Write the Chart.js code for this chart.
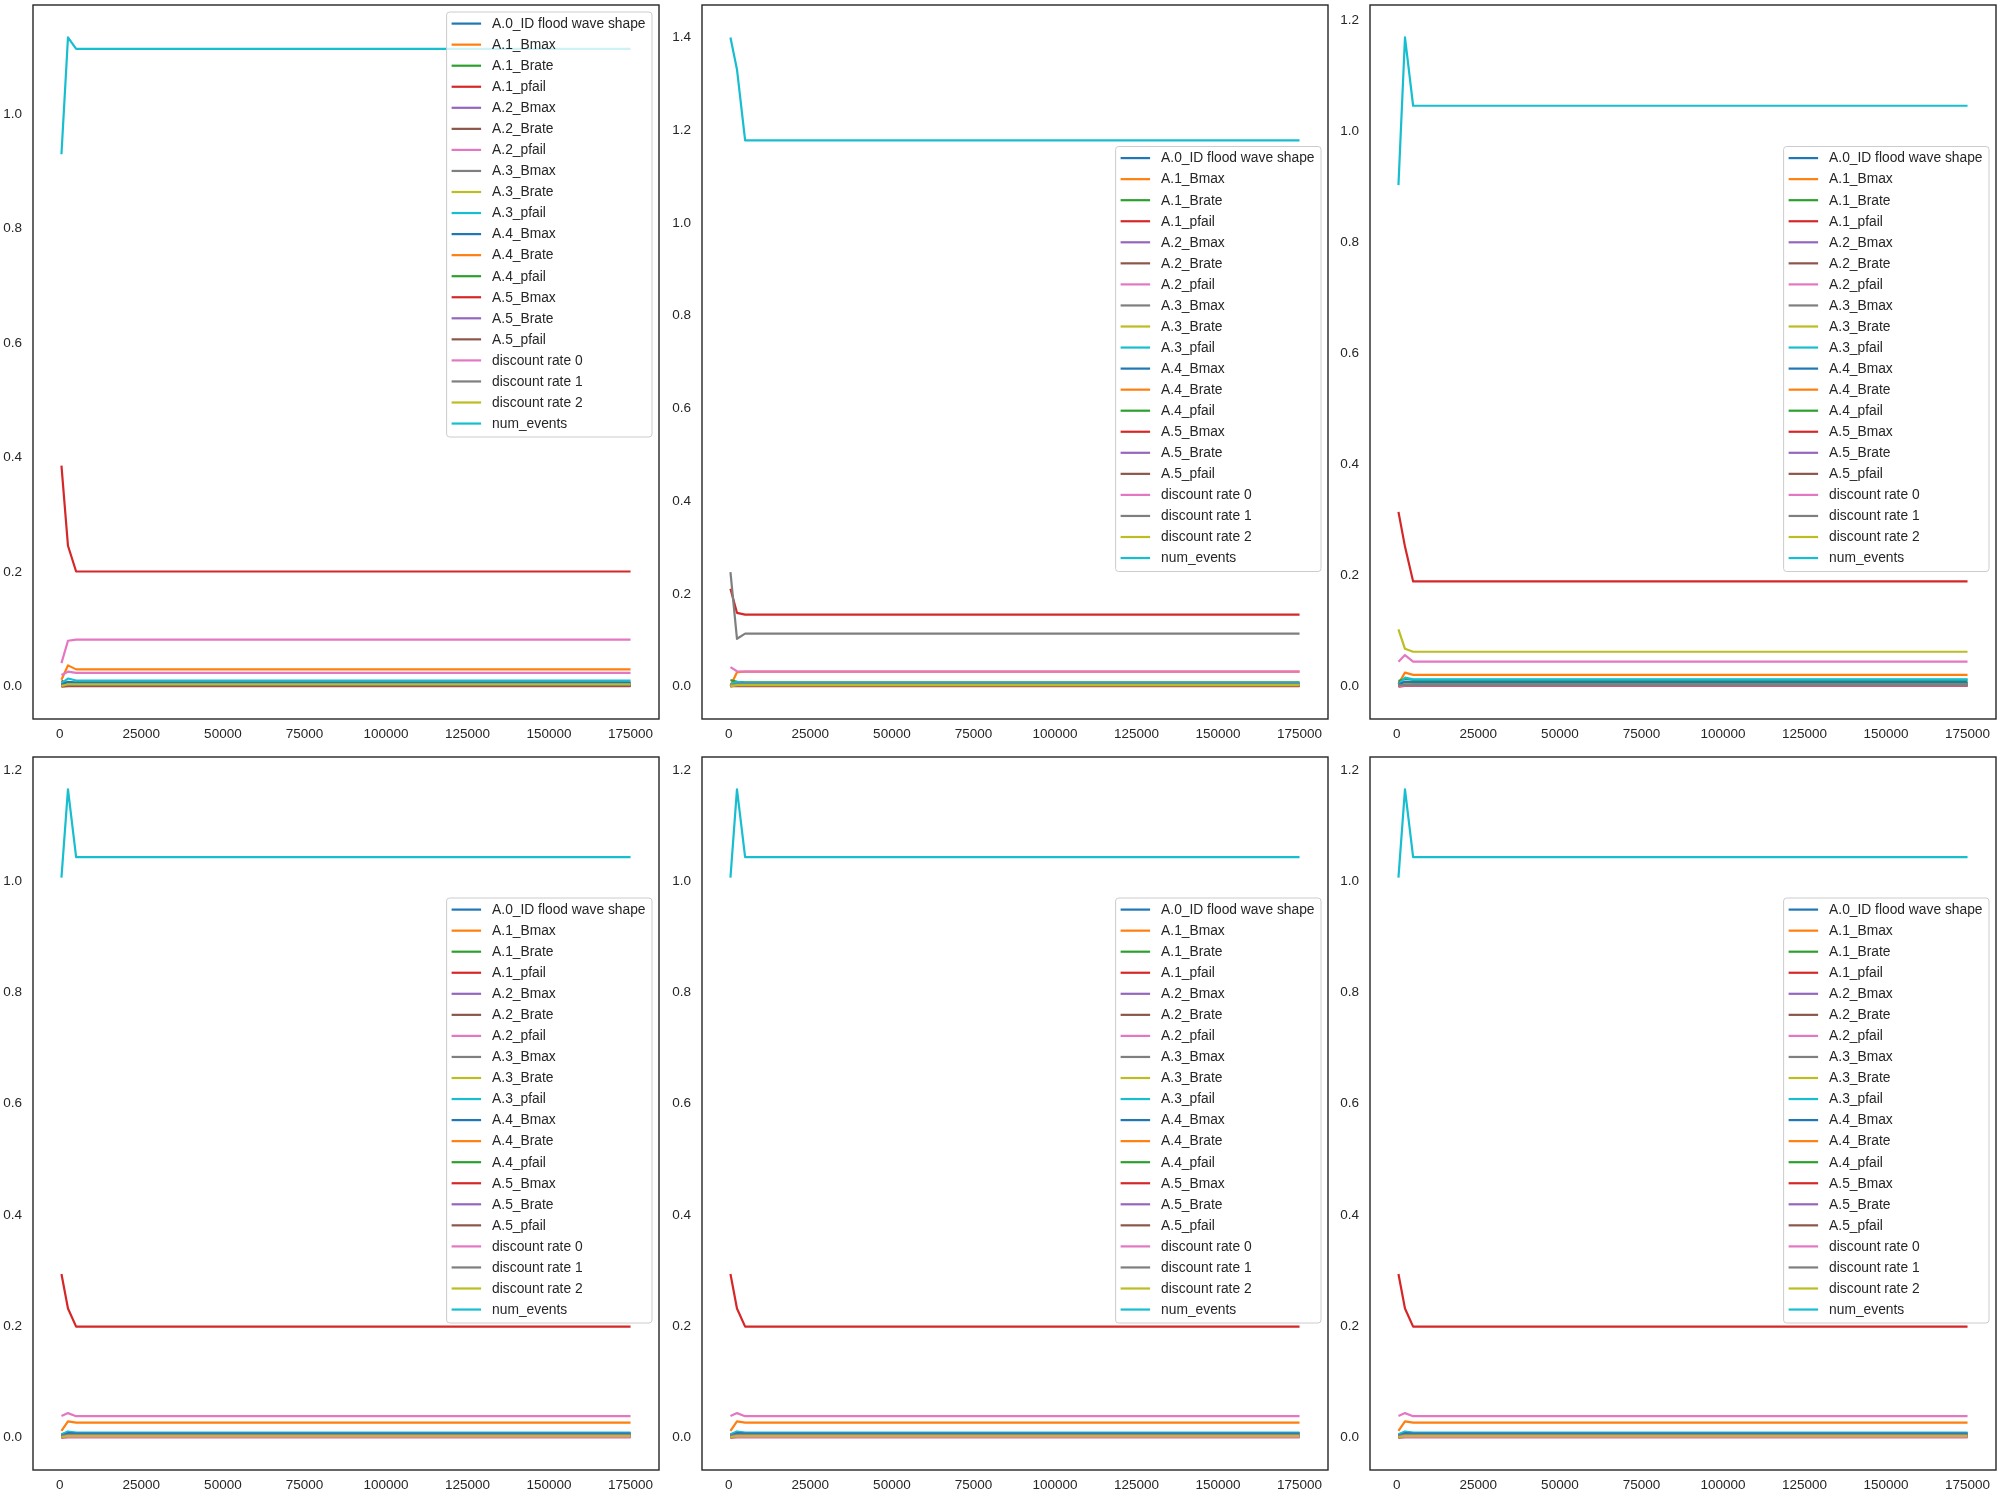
<!DOCTYPE html>
<html>
<head>
<meta charset="utf-8">
<script src="https://cdn.jsdelivr.net/npm/chart.js@4.4.0/dist/chart.umd.min.js"></script>
<style>
html, body { margin: 0; padding: 0; background: #ffffff; width: 2000px; height: 1500px; overflow: hidden; }
canvas { position: absolute; }
</style>
</head>
<body>
<script>
// ---------------- DATA ----------------
const seriesNames = [
  "A.0_ID flood wave shape", "A.1_Bmax", "A.1_Brate", "A.1_pfail",
  "A.2_Bmax", "A.2_Brate", "A.2_pfail", "A.3_Bmax", "A.3_Brate", "A.3_pfail",
  "A.4_Bmax", "A.4_Brate", "A.4_pfail", "A.5_Bmax", "A.5_Brate", "A.5_pfail",
  "discount rate 0", "discount rate 1", "discount rate 2", "num_events"
];

const sampleSizes = [500, 2500, 5000, 175000];

const xTickValues = [0, 25000, 50000, 75000, 100000, 125000, 150000, 175000];

// one row per series (same order as seriesNames), one value per sample size
const panel1Values = [
  [0.002, 0.006, 0.005, 0.005],
  [0.012, 0.037, 0.030, 0.030],
  [0.004, 0.008, 0.006, 0.006],
  [0.386, 0.246, 0.201, 0.201],
  [0.003, 0.004, 0.003, 0.003],
  [0.010, 0.005, 0.004, 0.004],
  [0.041, 0.080, 0.082, 0.082],
  [0.006, 0.004, 0.004, 0.004],
  [0.000, 0.006, 0.005, 0.005],
  [0.006, 0.014, 0.0105, 0.0105],
  [0.003, 0.008, 0.007, 0.007],
  [0.001, 0.002, 0.002, 0.002],
  [0.002, 0.003, 0.003, 0.003],
  [0.000, 0.0005, 0.0005, 0.0005],
  [0.002, 0.002, 0.002, 0.002],
  [0.001, 0.001, 0.001, 0.001],
  [0.020, 0.026, 0.024, 0.024],
  [0.002, 0.003, 0.003, 0.003],
  [0.001, 0.004, 0.004, 0.004],
  [0.930, 1.134, 1.114, 1.114]
];

const panel2Values = [
  [0.004, 0.006, 0.005, 0.005],
  [0.001, 0.031, 0.032, 0.032],
  [0.014, 0.010, 0.009, 0.009],
  [0.211, 0.159, 0.155, 0.155],
  [0.003, 0.004, 0.004, 0.004],
  [0.006, 0.004, 0.003, 0.003],
  [0.042, 0.033, 0.032, 0.032],
  [0.247, 0.103, 0.114, 0.114],
  [0.000, 0.005, 0.005, 0.005],
  [0.005, 0.010, 0.008, 0.008],
  [0.002, 0.006, 0.006, 0.006],
  [0.001, 0.002, 0.002, 0.002],
  [0.003, 0.004, 0.004, 0.004],
  [0.001, 0.001, 0.001, 0.001],
  [0.002, 0.003, 0.003, 0.003],
  [0.001, 0.002, 0.002, 0.002],
  [0.003, 0.004, 0.004, 0.004],
  [0.002, 0.003, 0.003, 0.003],
  [0.001, 0.003, 0.003, 0.003],
  [1.400, 1.331, 1.178, 1.178]
];

const panel3Values = [
  [0.003, 0.007, 0.006, 0.006],
  [0.005, 0.025, 0.021, 0.021],
  [0.010, 0.014, 0.012, 0.012],
  [0.3145, 0.252, 0.1894, 0.1894],
  [0.002, 0.004, 0.004, 0.004],
  [0.008, 0.006, 0.005, 0.005],
  [0.0448, 0.0567, 0.0448, 0.0448],
  [0.003, 0.004, 0.004, 0.004],
  [0.001, 0.005, 0.004, 0.004],
  [0.004, 0.016, 0.013, 0.013],
  [0.003, 0.009, 0.008, 0.008],
  [0.001, 0.002, 0.002, 0.002],
  [0.002, 0.003, 0.003, 0.003],
  [0.000, 0.001, 0.001, 0.001],
  [0.002, 0.003, 0.003, 0.003],
  [0.001, 0.002, 0.002, 0.002],
  [0.001, 0.002, 0.002, 0.002],
  [0.002, 0.003, 0.003, 0.003],
  [0.103, 0.068, 0.0627, 0.0627],
  [0.903, 1.169, 1.046, 1.046]
];

const panel4Values = [
  [0.003, 0.007, 0.006, 0.006],
  [0.012, 0.029, 0.027, 0.027],
  [0.005, 0.009, 0.008, 0.008],
  [0.294, 0.232, 0.1995, 0.1995],
  [0.002, 0.004, 0.004, 0.004],
  [0.006, 0.005, 0.004, 0.004],
  [0.039, 0.044, 0.0385, 0.0385],
  [0.004, 0.004, 0.004, 0.004],
  [0.000, 0.007, 0.005, 0.005],
  [0.006, 0.011, 0.009, 0.009],
  [0.003, 0.008, 0.007, 0.007],
  [0.001, 0.002, 0.002, 0.002],
  [0.002, 0.003, 0.003, 0.003],
  [0.000, 0.001, 0.001, 0.001],
  [0.003, 0.005, 0.005, 0.005],
  [0.001, 0.002, 0.002, 0.002],
  [0.001, 0.001, 0.001, 0.001],
  [0.002, 0.003, 0.003, 0.003],
  [0.001, 0.003, 0.003, 0.003],
  [1.0065, 1.165, 1.0433, 1.0433]
];

const panel5Values = [
  [0.003, 0.007, 0.006, 0.006],
  [0.012, 0.029, 0.027, 0.027],
  [0.005, 0.009, 0.008, 0.008],
  [0.294, 0.232, 0.1995, 0.1995],
  [0.002, 0.004, 0.004, 0.004],
  [0.006, 0.005, 0.004, 0.004],
  [0.039, 0.044, 0.0385, 0.0385],
  [0.004, 0.004, 0.004, 0.004],
  [0.000, 0.007, 0.005, 0.005],
  [0.006, 0.011, 0.009, 0.009],
  [0.003, 0.008, 0.007, 0.007],
  [0.001, 0.002, 0.002, 0.002],
  [0.002, 0.003, 0.003, 0.003],
  [0.000, 0.001, 0.001, 0.001],
  [0.003, 0.005, 0.005, 0.005],
  [0.001, 0.002, 0.002, 0.002],
  [0.001, 0.001, 0.001, 0.001],
  [0.002, 0.003, 0.003, 0.003],
  [0.001, 0.003, 0.003, 0.003],
  [1.0065, 1.165, 1.0433, 1.0433]
];

const panel6Values = [
  [0.003, 0.007, 0.006, 0.006],
  [0.012, 0.029, 0.027, 0.027],
  [0.005, 0.009, 0.008, 0.008],
  [0.294, 0.232, 0.1995, 0.1995],
  [0.002, 0.004, 0.004, 0.004],
  [0.006, 0.005, 0.004, 0.004],
  [0.039, 0.044, 0.0385, 0.0385],
  [0.004, 0.004, 0.004, 0.004],
  [0.000, 0.007, 0.005, 0.005],
  [0.006, 0.011, 0.009, 0.009],
  [0.003, 0.008, 0.007, 0.007],
  [0.001, 0.002, 0.002, 0.002],
  [0.002, 0.003, 0.003, 0.003],
  [0.000, 0.001, 0.001, 0.001],
  [0.003, 0.005, 0.005, 0.005],
  [0.001, 0.002, 0.002, 0.002],
  [0.001, 0.001, 0.001, 0.001],
  [0.002, 0.003, 0.003, 0.003],
  [0.001, 0.003, 0.003, 0.003],
  [1.0065, 1.165, 1.0433, 1.0433]
];

const panel1YTicks = [0.0, 0.2, 0.4, 0.6, 0.8, 1.0];
const panel2YTicks = [0.0, 0.2, 0.4, 0.6, 0.8, 1.0, 1.2, 1.4];
const panel3YTicks = [0.0, 0.2, 0.4, 0.6, 0.8, 1.0, 1.2];
const panel4YTicks = [0.0, 0.2, 0.4, 0.6, 0.8, 1.0, 1.2];
const panel5YTicks = [0.0, 0.2, 0.4, 0.6, 0.8, 1.0, 1.2];
const panel6YTicks = [0.0, 0.2, 0.4, 0.6, 0.8, 1.0, 1.2];

// ---------------- STYLE / LAYOUT ----------------
const tab10 = ["#1f77b4", "#ff7f0e", "#2ca02c", "#d62728", "#9467bd",
               "#8c564b", "#e377c2", "#7f7f7f", "#bcbd22", "#17becf"];
const FONT = '"Liberation Sans", Arial, Helvetica, sans-serif';
const TEXT = '#262626';

const panels = [
  { values: panel1Values, yTicks: panel1YTicks, L: 33,   T: 5,   W: 626, H: 714, legend: 'upper right' },
  { values: panel2Values, yTicks: panel2YTicks, L: 702,  T: 5,   W: 626, H: 714, legend: 'center right' },
  { values: panel3Values, yTicks: panel3YTicks, L: 1370, T: 5,   W: 626, H: 714, legend: 'center right' },
  { values: panel4Values, yTicks: panel4YTicks, L: 33,   T: 757, W: 626, H: 713, legend: 'center right' },
  { values: panel5Values, yTicks: panel5YTicks, L: 702,  T: 757, W: 626, H: 713, legend: 'center right' },
  { values: panel6Values, yTicks: panel6YTicks, L: 1370, T: 757, W: 626, H: 713, legend: 'center right' }
];

const Y_AXIS_W = 40, X_AXIS_H = 30, PAD_T = 5, PAD_R = 5;

function roundRectPath(ctx, x, y, w, h, r) {
  ctx.beginPath();
  ctx.moveTo(x + r, y);
  ctx.lineTo(x + w - r, y);
  ctx.arcTo(x + w, y, x + w, y + r, r);
  ctx.lineTo(x + w, y + h - r);
  ctx.arcTo(x + w, y + h, x + w - r, y + h, r);
  ctx.lineTo(x + r, y + h);
  ctx.arcTo(x, y + h, x, y + h - r, r);
  ctx.lineTo(x, y + r);
  ctx.arcTo(x, y, x + r, y, r);
  ctx.closePath();
}

const framePlugin = {
  id: 'frameAndLegend',
  afterDraw(chart, args, opts) {
    const ctx = chart.ctx;
    const a = chart.chartArea;
    ctx.save();
    // spines
    ctx.strokeStyle = TEXT;
    ctx.lineWidth = 1.4;
    ctx.strokeRect(a.left, a.top, a.right - a.left, a.bottom - a.top);

    // legend inside axes (matplotlib style)
    const ds = chart.data.datasets;
    const fs = 13.8;
    ctx.font = fs + 'px ' + FONT;
    let maxW = 0;
    ds.forEach(d => { maxW = Math.max(maxW, ctx.measureText(d.label).width); });
    const rowH = 21.05;
    const handleX0 = 5, handleLen = 29.5, textGap = 11;
    const boxW = handleX0 + handleLen + textGap + maxW + 6.5;
    const boxH = ds.length * rowH + 4;
    const boxX = a.right - 7 - boxW;
    let boxY;
    if (opts.placement === 'upper right') {
      boxY = a.top + 7;
    } else {
      boxY = (a.top + a.bottom) / 2 - boxH / 2 - 3;
    }
    roundRectPath(ctx, boxX, boxY, boxW, boxH, 3);
    ctx.fillStyle = 'rgba(255,255,255,0.8)';
    ctx.fill();
    ctx.strokeStyle = '#cccccc';
    ctx.lineWidth = 1;
    ctx.stroke();

    ctx.textBaseline = 'middle';
    ctx.textAlign = 'left';
    ds.forEach((d, i) => {
      const cy = boxY + 11.6 + i * rowH;
      ctx.beginPath();
      ctx.strokeStyle = d.borderColor;
      ctx.lineWidth = 2.2;
      ctx.moveTo(boxX + handleX0, cy);
      ctx.lineTo(boxX + handleX0 + handleLen, cy);
      ctx.stroke();
      ctx.fillStyle = TEXT;
      ctx.fillText(d.label, boxX + handleX0 + handleLen + textGap, cy + 0.5);
    });
    ctx.restore();
  }
};

function makePanel(p) {
  const canvas = document.createElement('canvas');
  const cw = p.W + Y_AXIS_W + PAD_R;
  const ch = p.H + PAD_T + X_AXIS_H;
  canvas.width = cw; canvas.height = ch;
  canvas.style.width = cw + 'px'; canvas.style.height = ch + 'px';
  canvas.style.left = (p.L - Y_AXIS_W) + 'px';
  canvas.style.top = (p.T - PAD_T) + 'px';
  document.body.appendChild(canvas);

  // matplotlib-like autoscale with 5% margins
  const xs = sampleSizes;
  const xMinD = Math.min(...xs), xMaxD = Math.max(...xs);
  const xr = xMaxD - xMinD;
  let yMinD = Infinity, yMaxD = -Infinity;
  p.values.forEach(row => row.forEach(v => { yMinD = Math.min(yMinD, v); yMaxD = Math.max(yMaxD, v); }));
  const yr = yMaxD - yMinD;

  const n = seriesNames.length;
  const datasets = seriesNames.map((name, i) => ({
    label: name,
    data: sampleSizes.map((x, j) => ({ x: x, y: p.values[i][j] })),
    borderColor: tab10[i % 10],
    backgroundColor: tab10[i % 10],
    borderWidth: 2.2,
    pointRadius: 0,
    pointHoverRadius: 0,
    tension: 0,
    fill: false,
    borderJoinStyle: 'round',
    borderCapStyle: 'butt',
    order: n - i   // later series drawn on top, as in matplotlib
  }));

  new Chart(canvas, {
    type: 'line',
    data: { datasets },
    options: {
      responsive: false,
      animation: false,
      devicePixelRatio: 1,
      events: [],
      layout: { padding: { top: PAD_T, right: PAD_R, left: 0, bottom: 0 } },
      plugins: {
        legend: { display: false },
        tooltip: { enabled: false },
        frameAndLegend: { placement: p.legend }
      },
      scales: {
        x: {
          type: 'linear',
          min: xMinD - 0.05 * xr,
          max: xMaxD + 0.05 * xr,
          grid: { display: false, drawTicks: false },
          border: { display: false },
          ticks: {
            padding: 7,
            color: TEXT,
            font: { family: FONT, size: 13.5 },
            maxRotation: 0,
            autoSkip: false,
            callback: v => String(v)
          },
          afterBuildTicks: s => { s.ticks = xTickValues.map(v => ({ value: v })); },
          afterFit: s => { s.height = X_AXIS_H; s.paddingLeft = 0; s.paddingRight = 0; }
        },
        y: {
          type: 'linear',
          min: yMinD - 0.05 * yr,
          max: yMaxD + 0.05 * yr,
          grid: { display: false, drawTicks: false },
          border: { display: false },
          ticks: {
            padding: 11,
            color: TEXT,
            font: { family: FONT, size: 13.5 },
            autoSkip: false,
            callback: v => v.toFixed(1)
          },
          afterBuildTicks: s => { s.ticks = p.yTicks.map(v => ({ value: v })); },
          afterFit: s => { s.width = Y_AXIS_W; s.paddingTop = 0; s.paddingBottom = 0; }
        }
      }
    },
    plugins: [framePlugin]
  });
}

panels.forEach(makePanel);
</script>
</body>
</html>
